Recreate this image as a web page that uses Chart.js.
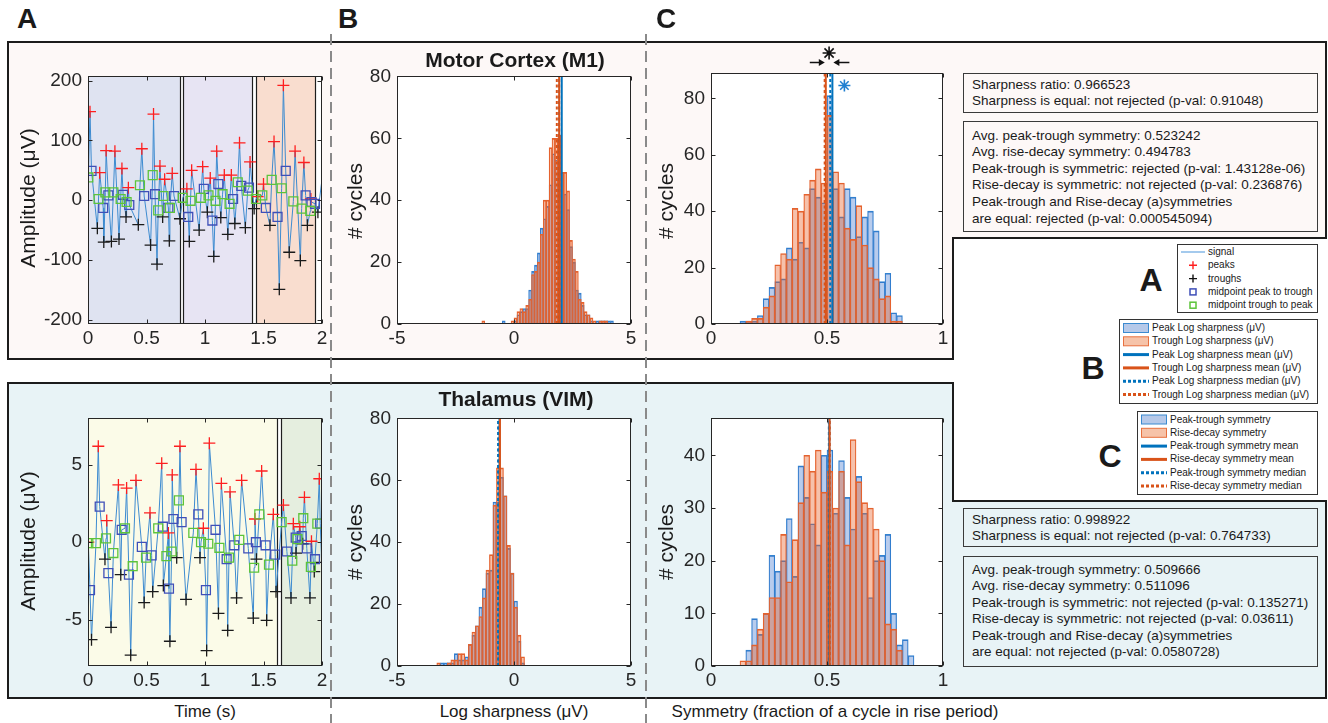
<!DOCTYPE html>
<html>
<head>
<meta charset="utf-8">
<title>Waveform shape: Motor Cortex vs Thalamus</title>
<script src="https://cdn.jsdelivr.net/npm/chart.js@4.4.1/dist/chart.umd.min.js"></script>
<style>
html,body{margin:0;padding:0;background:#fff;}
#root{position:relative;width:1328px;height:723px;overflow:hidden;font-family:"Liberation Sans",Arial,Helvetica,sans-serif;color:#1a1a1a;}
#deco{position:absolute;left:0;top:0;}
canvas{position:absolute;}
.t{position:absolute;white-space:nowrap;line-height:1;}
.box{position:absolute;border:1px solid #3a3a3a;box-sizing:border-box;font-size:13.5px;line-height:16.6px;padding-left:8px;color:#1a1a1a;white-space:nowrap;}
</style>
</head>
<body>
<div id="root">
<svg id="deco" width="1328" height="723" xmlns="http://www.w3.org/2000/svg">
  <path d="M8 42 H1326 V238 H953 V359 H8 Z" fill="#fdf8f7" stroke="#1c1c1c" stroke-width="2"/>
  <path d="M8 383 H953 V501 H1326 V698 H8 Z" fill="#e8f3f6" stroke="#1c1c1c" stroke-width="2"/>
  <line x1="331" y1="34" x2="331" y2="723" stroke="#8a8a8a" stroke-width="2" stroke-dasharray="11 6"/>
  <line x1="646" y1="34" x2="646" y2="723" stroke="#8a8a8a" stroke-width="2" stroke-dasharray="11 6"/>
  <!-- legend A -->
  <rect x="1177.5" y="244.5" width="140" height="68" fill="#fff" stroke="#333" stroke-width="1"/>
  <line x1="1181" y1="252" x2="1205" y2="252" stroke="#7db4e6" stroke-width="1.4"/>
  <path d="M1189 265.3 H1197 M1193 261.3 V269.3" stroke="#ff1f1f" stroke-width="1.4"/>
  <path d="M1189 278.6 H1197 M1193 274.6 V282.6" stroke="#111" stroke-width="1.4"/>
  <rect x="1190" y="288.9" width="6" height="6" fill="none" stroke="#3f4fb8" stroke-width="1.5"/>
  <rect x="1190" y="302.2" width="6" height="6" fill="none" stroke="#5cc43a" stroke-width="1.5"/>
  <!-- legend B -->
  <rect x="1119.5" y="319.5" width="198" height="84" fill="#fff" stroke="#333" stroke-width="1"/>
  <rect x="1123.5" y="323.5" width="25" height="9" fill="#b6c9e9" stroke="#3b8ad0" stroke-width="1"/>
  <rect x="1123.5" y="336.8" width="25" height="9" fill="#f6c3a9" stroke="#e8703e" stroke-width="1"/>
  <line x1="1123" y1="354.6" x2="1149" y2="354.6" stroke="#0072bd" stroke-width="3"/>
  <line x1="1123" y1="367.9" x2="1149" y2="367.9" stroke="#d95319" stroke-width="3"/>
  <line x1="1123" y1="381.2" x2="1149" y2="381.2" stroke="#0072bd" stroke-width="3" stroke-dasharray="3 2"/>
  <line x1="1123" y1="394.5" x2="1149" y2="394.5" stroke="#d95319" stroke-width="3" stroke-dasharray="3 2"/>
  <!-- legend C -->
  <rect x="1137.5" y="411.5" width="180" height="83" fill="#fff" stroke="#333" stroke-width="1"/>
  <rect x="1141.5" y="415" width="25" height="9" fill="#b6c9e9" stroke="#3b8ad0" stroke-width="1"/>
  <rect x="1141.5" y="428.3" width="25" height="9" fill="#f6c3a9" stroke="#e8703e" stroke-width="1"/>
  <line x1="1141" y1="446.1" x2="1167" y2="446.1" stroke="#0072bd" stroke-width="3"/>
  <line x1="1141" y1="459.4" x2="1167" y2="459.4" stroke="#d95319" stroke-width="3"/>
  <line x1="1141" y1="472.7" x2="1167" y2="472.7" stroke="#0072bd" stroke-width="3" stroke-dasharray="3 2"/>
  <line x1="1141" y1="486" x2="1167" y2="486" stroke="#d95319" stroke-width="3" stroke-dasharray="3 2"/>
</svg>
</div>
<script>
// ================= DATA =================
// tick labels
const timeTicks = [0, 0.5, 1, 1.5, 2];
const m1AmpTicks = [-200, -100, 0, 100, 200];
const vimAmpTicks = [-5, 0, 5];
const sharpTicks = [-5, 0, 5];
const sharpCountTicks = [0, 20, 40, 60, 80];
const symTicks = [0, 0.5, 1];
const m1SymCountTicks = [0, 20, 40, 60, 80];
const vimSymCountTicks = [0, 10, 20, 30, 40];

// Panel A – Motor cortex (M1) time series [time s, amplitude µV]
const m1Peaks = [[0.017,148],[0.10,46],[0.155,83],[0.23,82],[0.29,53],[0.345,21],[0.46,86],[0.56,144],[0.615,57],[0.655,35],[0.72,45],[0.845,19],[0.886,50],[0.98,56],[1.045,37],[1.10,82],[1.165,42],[1.225,42],[1.295,96],[1.385,64],[1.45,6],[1.50,27],[1.59,98],[1.67,192],[1.77,82],[1.845,63],[1.905,2]];
const m1Troughs = [[0.08,-47],[0.135,-70],[0.2,-69],[0.265,-65],[0.325,-28],[0.43,-41],[0.535,-75],[0.59,-107],[0.638,-28],[0.695,-68],[0.786,-31],[0.866,-69],[0.95,-50],[1.02,-20],[1.075,-94],[1.135,-29],[1.195,-57],[1.255,-39],[1.345,-46],[1.42,-14],[1.555,-42],[1.635,-149],[1.72,-87],[1.815,-101],[1.875,-42],[1.965,-20]];
const m1MidPT = [[0.03,49],[0.13,-13],[0.174,8],[0.30,9],[0.353,-8],[0.48,7],[0.573,10],[0.687,-13],[0.735,7],[0.857,-28],[0.99,19],[1.063,-34],[1.114,27],[1.24,2],[1.31,24],[1.376,21],[1.52,-13],[1.62,-28],[1.69,49],[1.86,8],[1.91,-3],[1.94,-6]];
const m1MidTP = [[0.003,38],[0.09,2],[0.148,13],[0.217,13],[0.279,2],[0.33,-3],[0.444,25],[0.553,42],[0.60,-17],[0.645,7],[0.70,-13],[0.81,4],[0.876,-1],[0.965,4],[1.03,8],[1.09,-1],[1.15,10],[1.21,-6],[1.28,30],[1.365,16],[1.436,2],[1.49,8],[1.57,34],[1.655,20],[1.755,-2],[1.826,-14],[1.90,-18]];
const m1SignalEnds = [[2.0,35]];
const m1Segments = [[0,0.786],[0.812,1.40],[1.436,1.94]];

// Panel A – Thalamus (VIM) time series
const vimPeaks = [[0.003,0],[0.088,6.2],[0.16,1.4],[0.26,3.7],[0.33,3.5],[0.41,4.0],[0.53,1.9],[0.63,5.1],[0.687,0.6],[0.72,4.35],[0.786,6.2],[0.923,4.7],[0.986,0.9],[1.037,6.4],[1.14,3.8],[1.214,3.25],[1.313,4.0],[1.427,1.5],[1.484,4.6],[1.584,1.8],[1.67,2.4],[1.755,1.2],[1.81,1.0],[1.85,2.9],[1.91,0.06],[1.977,4.1]];
const vimTroughs = [[0.03,-6.3],[0.145,-1.1],[0.197,-5.5],[0.28,-2.1],[0.365,-7.3],[0.48,-3.9],[0.553,-3.2],[0.644,-2.8],[0.70,-6.4],[0.758,-1.0],[0.838,-3.7],[0.957,-1.0],[1.014,-7.0],[1.115,-4.6],[1.194,-5.7],[1.27,-3.6],[1.413,-4.9],[1.44,-1.1],[1.527,-5.05],[1.607,-3.2],[1.735,-3.6],[1.778,-0.7],[1.835,-0.1],[1.897,-3.6],[1.934,-1.9],[1.997,-1.3]];
const vimMidPT = [[0.017,-3.1],[0.10,2.3],[0.174,-2.0],[0.288,0.8],[0.35,-2.1],[0.46,-0.3],[0.544,-0.85],[0.64,1.0],[0.692,-3.0],[0.73,1.5],[0.80,1.3],[0.943,1.8],[1.008,-3.1],[1.09,0.8],[1.185,-1.1],[1.25,-0.2],[1.37,-0.4],[1.435,0],[1.518,-0.2],[1.60,-0.8],[1.70,-0.6],[1.775,0.3],[1.826,0.4],[1.87,-0.4],[1.94,-1.1],[1.985,1.2]];
const vimMidTP = [[0.003,-0.06],[0.068,-0.06],[0.154,0.25],[0.217,-0.7],[0.316,0.9],[0.382,-1.55],[0.496,-1.0],[0.60,0.9],[0.67,-0.9],[0.715,-0.6],[0.777,2.7],[0.90,0.6],[0.966,0],[1.028,-0.1],[1.123,-0.36],[1.205,-1.0],[1.293,0.15],[1.42,-1.65],[1.464,1.8],[1.547,-1.45],[1.655,1.3],[1.746,-1.2],[1.79,0.2],[1.84,1.55],[1.905,-1.6],[1.96,1.2]];
const vimSignalEnds = [];
const vimSegments = [[0,1.615],[1.65,2.0]];

// Panel B – log sharpness histograms (bin left edges, counts)
const m1SharpBinWidth = 0.125;
const m1SharpBins = [-1.375,-1.25,-1.125,-1,-0.875,-0.75,-0.625,-0.5,-0.375,-0.25,-0.125,0,0.125,0.25,0.375,0.5,0.625,0.75,0.875,1,1.125,1.25,1.375,1.5,1.625,1.75,1.875,2,2.125,2.25,2.375,2.5,2.625,2.75,2.875,3,3.125,3.25,3.375,3.5,3.625,3.75,3.875,4,4.125];
const m1PeakSharp = [0,0,0,0,0,0,0,1,0,0,0,1,3,4,5,5,11,17,19,23,31,34,38,45,55,53,60,49,42,37,25,20,11,10,6,3,3,1,0,1,1,1,1,1,1];
const m1TroughSharp = [1,0,0,0,0,0,0,0,0,0,1,2,4,5,4,6,8,16,17,20,29,40,40,57,60,60,61,49,49,43,27,21,17,8,7,4,3,2,1,0,1,1,1,0,0];
const m1SharpMeans = [2.04, 1.93];    // [peak, trough]
const m1SharpMedians = [1.93, 1.83];  // [peak, trough]

const vimSharpBinWidth = 0.15;
const vimSharpBins = [-3.3,-3.15,-3,-2.85,-2.7,-2.55,-2.4,-2.25,-2.1,-1.95,-1.8,-1.65,-1.5,-1.35,-1.2,-1.05,-0.9,-0.75,-0.6,-0.45,-0.3,-0.15,0,0.15,0.3];
const vimPeakSharp = [0,1,1,1,1,4,2,2,3,7,10,13,19,25,30,31,53,53,61,55,38,30,21,8,1];
const vimTroughSharp = [1,0,0,1,2,2,4,4,2,7,11,13,16,22,31,36,52,64,64,55,39,30,19,10,3];
const vimSharpMeans = [-0.62, -0.60];
const vimSharpMedians = [-0.68, -0.66];

// Panel C – symmetry histograms
const symBinWidth = 0.025;
const m1SymBins = [0.125,0.15,0.175,0.2,0.225,0.25,0.275,0.3,0.325,0.35,0.375,0.4,0.425,0.45,0.475,0.5,0.525,0.55,0.575,0.6,0.625,0.65,0.675,0.7,0.725,0.75,0.775,0.8];
const m1PeakTroughSym = [1,1,1,3,9,13,15,16,27,23,29,27,48,45,43,81,48,38,48,45,31,38,40,33,15,18,4,3];
const m1RiseDecaySym = [0,1,2,2,6,10,21,25,23,41,40,46,51,55,50,74,54,50,34,30,42,28,20,16,9,10,1,1];
const m1SymMeans = [0.523242, 0.494783];   // [peak-trough, rise-decay]
const m1SymMedians = [0.514, 0.490];

const vimSymBins = [0.125,0.15,0.175,0.2,0.225,0.25,0.275,0.3,0.325,0.35,0.375,0.4,0.425,0.45,0.475,0.5,0.525,0.55,0.575,0.6,0.625,0.65,0.675,0.7,0.725,0.75,0.775,0.8,0.825,0.85];
const vimPeakTroughSym = [0,3,9,6,10,21,18,20,28,17,38,32,27,23,40,41,29,39,32,26,36,29,13,20,21,25,10,4,5,2];
const vimRiseDecaySym = [1,1,4,7,10,13,13,25,16,24,31,40,37,41,33,37,30,37,23,43,35,31,30,26,20,8,7,3,0,0];
const vimSymMeans = [0.509666, 0.511096];
const vimSymMedians = [0.508, 0.512];

// texts
const m1Stats1 = ["Sharpness ratio: 0.966523", "Sharpness is equal: not rejected (p-val: 0.91048)"];
const m1Stats2 = ["Avg. peak-trough symmetry: 0.523242", "Avg. rise-decay symmetry: 0.494783", "Peak-trough is symmetric: rejected (p-val: 1.43128e-06)", "Rise-decay is symmetric: not rejected (p-val: 0.236876)", "Peak-trough and Rise-decay (a)symmetries", "are equal: rejected (p-val: 0.000545094)"];
const vimStats1 = ["Sharpness ratio: 0.998922", "Sharpness is equal: not rejected (p-val: 0.764733)"];
const vimStats2 = ["Avg. peak-trough symmetry: 0.509666", "Avg. rise-decay symmetry: 0.511096", "Peak-trough is symmetric: not rejected (p-val: 0.135271)", "Rise-decay is symmetric: not rejected (p-val: 0.03611)", "Peak-trough and Rise-decay (a)symmetries", "are equal: not rejected (p-val: 0.0580728)"];
const legendA = ["signal", "peaks", "troughs", "midpoint peak to trough", "midpoint trough to peak"];
const legendB = ["Peak Log sharpness (\u03bcV)", "Trough Log sharpness (\u03bcV)", "Peak Log sharpness mean (\u03bcV)", "Trough Log sharpness mean (\u03bcV)", "Peak Log sharpness median (\u03bcV)", "Trough Log sharpness median (\u03bcV)"];
const legendC = ["Peak-trough symmetry", "Rise-decay symmetry", "Peak-trough symmetry mean", "Rise-decay symmetry mean", "Peak-trough symmetry median", "Rise-decay symmetry median"];

// ================= STYLE / RENDER =================
const FONT = '"Liberation Sans", Arial, Helvetica, sans-serif';
const INK = '#262626';
const root = document.getElementById('root');
Chart.defaults.font.family = FONT;
Chart.defaults.animation = false;

function mkCanvas(left, top, w, h) {
  const c = document.createElement('canvas');
  c.width = w; c.height = h;
  c.style.left = left + 'px'; c.style.top = top + 'px';
  c.style.width = w + 'px'; c.style.height = h + 'px';
  root.appendChild(c);
  return c;
}

function axis(min, max, ticks, size, isX, pad) {
  return {
    type: 'linear', min, max, offset: false,
    grid: { display: false, drawTicks: false }, border: { display: false },
    afterBuildTicks: s => { s.ticks = ticks.map(v => ({ value: v })); },
    afterFit: s => { if (isX) s.height = size; else s.width = size; },
    ticks: { autoSkip: false, maxRotation: 0, padding: pad, color: INK,
             font: { family: FONT, size: 19 }, callback: v => String(v) }
  };
}

const boxPlugin = {
  id: 'matBox',
  afterDatasetsDraw(chart) {
    const { ctx, chartArea: a, scales: { x, y } } = chart;
    ctx.save();
    ctx.strokeStyle = INK; ctx.lineWidth = 1;
    const L = Math.round(a.left) + 0.5, R = Math.round(a.right) - 0.5;
    const T = Math.round(a.top) + 0.5, B = Math.round(a.bottom) - 0.5;
    ctx.strokeRect(L, T, R - L, B - T);
    ctx.beginPath();
    x.ticks.forEach(t => { const p = Math.round(x.getPixelForValue(t.value)) + 0.5;
      ctx.moveTo(p, B); ctx.lineTo(p, B - 4); ctx.moveTo(p, T); ctx.lineTo(p, T + 4); });
    y.ticks.forEach(t => { const p = Math.round(y.getPixelForValue(t.value)) + 0.5;
      ctx.moveTo(L, p); ctx.lineTo(L + 4, p); ctx.moveTo(R, p); ctx.lineTo(R - 4, p); });
    ctx.stroke();
    ctx.restore();
  }
};

function regionPlugin(segments, colors) {
  return {
    id: 'regions',
    beforeDraw(chart) {
      const { ctx, chartArea: a, scales: { x } } = chart;
      ctx.save();
      ctx.fillStyle = '#ffffff';
      ctx.fillRect(a.left, a.top, a.width, a.height);
      segments.forEach((s, i) => {
        const x0 = x.getPixelForValue(s[0]), x1 = x.getPixelForValue(s[1]);
        ctx.fillStyle = colors[i];
        ctx.fillRect(x0, a.top, x1 - x0, a.height);
      });
      ctx.restore();
    },
    beforeDatasetsDraw(chart) {
      const { ctx, chartArea: a, scales: { x } } = chart;
      ctx.save();
      ctx.strokeStyle = '#1e1e1e'; ctx.lineWidth = 1.2;
      segments.forEach(s => s.forEach(v => {
        if (v > x.min && v < x.max) {
          const p = Math.round(x.getPixelForValue(v)) + 0.5;
          ctx.beginPath(); ctx.moveTo(p, a.top); ctx.lineTo(p, a.bottom); ctx.stroke();
        }
      }));
      ctx.restore();
    }
  };
}

const toXY = arr => arr.map(p => ({ x: p[0], y: p[1] }));

function timeChart(geo, peaks, troughs, midPT, midTP, ends, yMin, yMax, yTicks, segments, segColors) {
  const signal = [...peaks, ...troughs, ...midPT, ...midTP, ...ends].sort((a, b) => a[0] - b[0]);
  const c = mkCanvas(geo.left, geo.top, geo.w, geo.h);
  new Chart(c, {
    type: 'scatter',
    data: { datasets: [
      { data: toXY(signal), showLine: true, borderColor: '#3d8bd0', borderWidth: 1, pointRadius: 0, tension: 0, order: 5 },
      { data: toXY(peaks), pointStyle: 'cross', pointRadius: 6, borderColor: '#ff1f1f', borderWidth: 1.3, order: 4 },
      { data: toXY(troughs), pointStyle: 'cross', pointRadius: 6, borderColor: '#1a1a1a', borderWidth: 1.3, order: 3 },
      { data: toXY(midPT), pointStyle: 'rect', pointRadius: 6.3, backgroundColor: 'rgba(0,0,0,0)', borderColor: '#3f4fb8', borderWidth: 1.3, order: 2 },
      { data: toXY(midTP), pointStyle: 'rect', pointRadius: 6.3, backgroundColor: 'rgba(0,0,0,0)', borderColor: '#5cc43a', borderWidth: 1.3, order: 1 }
    ] },
    options: {
      responsive: false, animation: false, devicePixelRatio: 1,
      layout: { padding: geo.pad },
      plugins: { legend: { display: false }, tooltip: { enabled: false } },
      events: [],
      scales: { x: axis(0, 2, timeTicks, 30, true, 3), y: axis(yMin, yMax, yTicks, geo.yW, false, 6) }
    },
    plugins: [regionPlugin(segments, segColors), boxPlugin]
  });
}

function histChart(geo, bins, width, blue, orange, means, medians, xMin, xMax, xTicks, yMax, yTicks, extra) {
  const c = mkCanvas(geo.left, geo.top, geo.w, geo.h);
  const bars = arr => bins.map((e, i) => ({ x: e + width / 2, y: arr[i] }));
  const vline = (v, color, dash, ord) => ({ type: 'line', data: [{ x: v, y: 0 }, { x: v, y: yMax }], borderColor: color,
    borderWidth: 2, borderDash: dash, pointRadius: 0, order: ord });
  const edge = { top: 1, left: 0.55, right: 0.55, bottom: 0 };
  const plugins = [regionPlugin([], []), boxPlugin];
  if (extra) plugins.push(extra);
  new Chart(c, {
    type: 'bar',
    data: { datasets: [
      { data: bars(blue), backgroundColor: 'rgba(40,100,200,0.33)', borderColor: '#3483cf', borderWidth: edge,
        borderSkipped: false, barPercentage: 1, categoryPercentage: 1, grouped: false, order: 6 },
      { data: bars(orange), backgroundColor: 'rgba(232,100,45,0.40)', borderColor: '#e4622f', borderWidth: edge,
        borderSkipped: false, barPercentage: 1, categoryPercentage: 1, grouped: false, order: 5 },
      vline(medians[1], '#d95319', [3, 2.5], 4),
      vline(medians[0], '#0072bd', [3, 2.5], 3),
      vline(means[0], '#0072bd', [], 2),
      vline(means[1], '#d95319', [], 1)
    ] },
    options: {
      responsive: false, animation: false, devicePixelRatio: 1,
      layout: { padding: geo.pad },
      plugins: { legend: { display: false }, tooltip: { enabled: false } },
      events: [],
      scales: { x: axis(xMin, xMax, xTicks, 30, true, 3), y: axis(0, yMax, yTicks, geo.yW, false, 6) }
    },
    plugins
  });
}

function geometry(plotLeft, plotTop, plotW, plotH, yW, padTop) {
  const pad = { left: 4, top: padTop, right: 14, bottom: 4 };
  return { left: plotLeft - yW - pad.left, top: plotTop - padTop, w: pad.left + yW + plotW + pad.right,
           h: padTop + plotH + 30 + pad.bottom, pad, yW };
}

function drawStar(ctx, cx, cy, r, col) {
  ctx.save(); ctx.strokeStyle = col; ctx.lineWidth = 1.6; ctx.beginPath();
  for (let k = 0; k < 4; k++) {
    const ang = k * Math.PI / 4, dx = Math.cos(ang) * r, dy = Math.sin(ang) * r;
    ctx.moveTo(cx - dx, cy - dy); ctx.lineTo(cx + dx, cy + dy);
  }
  ctx.stroke(); ctx.restore();
}
function drawArrow(ctx, x0, x1, y, col) {
  const dir = Math.sign(x1 - x0);
  ctx.save(); ctx.strokeStyle = col; ctx.fillStyle = col; ctx.lineWidth = 1.5;
  ctx.beginPath(); ctx.moveTo(x0, y); ctx.lineTo(x1 - dir * 4, y); ctx.stroke();
  ctx.beginPath(); ctx.moveTo(x1, y); ctx.lineTo(x1 - dir * 6, y - 3.5); ctx.lineTo(x1 - dir * 6, y + 3.5); ctx.closePath(); ctx.fill();
  ctx.restore();
}
const sigPlugin = {
  id: 'significance',
  afterDraw(chart) {
    const { ctx, chartArea: a, scales: { x } } = chart;
    const xb = x.getPixelForValue(m1SymMeans[0]);
    const xo = x.getPixelForValue(m1SymMeans[1]);
    drawStar(ctx, (xo + xb) / 2, a.top - 20, 6.5, '#111');
    drawArrow(ctx, xo - 16, xo - 1, a.top - 10.5, '#111');
    drawArrow(ctx, xb + 17, xb + 1, a.top - 10.5, '#111');
    drawStar(ctx, xb + 12, a.top + 12.5, 6, '#1f7fd0');
  }
};

// ---- charts ----
timeChart(geometry(88, 73, 234, 251, 62, 14), m1Peaks, m1Troughs, m1MidPT, m1MidTP, m1SignalEnds,
  -207, 207, m1AmpTicks, m1Segments, ['#dfe3f1', '#e7e4f3', '#f9ddcf']);
timeChart(geometry(88, 415, 234, 251, 62, 14), vimPeaks, vimTroughs, vimMidPT, vimMidTP, vimSignalEnds,
  -8, 8, vimAmpTicks, vimSegments, ['#fbfbe8', '#e5eedf']);
histChart(geometry(397, 73, 234, 251, 45, 14), m1SharpBins, m1SharpBinWidth, m1PeakSharp, m1TroughSharp,
  m1SharpMeans, m1SharpMedians, -5, 5, sharpTicks, 80, sharpCountTicks);
histChart(geometry(397, 415, 234, 251, 45, 14), vimSharpBins, vimSharpBinWidth, vimPeakSharp, vimTroughSharp,
  vimSharpMeans, vimSharpMedians, -5, 5, sharpTicks, 80, sharpCountTicks);
histChart(geometry(711, 73, 232, 251, 45, 42), m1SymBins, symBinWidth, m1PeakTroughSym, m1RiseDecaySym,
  m1SymMeans, m1SymMedians, 0, 1, symTicks, 89, m1SymCountTicks, sigPlugin);
histChart(geometry(711, 415, 232, 251, 45, 14), vimSymBins, symBinWidth, vimPeakTroughSym, vimRiseDecaySym,
  vimSymMeans, vimSymMedians, 0, 1, symTicks, 47, vimSymCountTicks);

// ---- text ----
function addText(txt, x, y, size, o = {}) {
  const d = document.createElement('div');
  d.className = 't'; d.textContent = txt;
  d.style.left = x + 'px'; d.style.top = y + 'px'; d.style.fontSize = size + 'px';
  if (o.bold) d.style.fontWeight = 'bold';
  if (o.color) d.style.color = o.color;
  d.style.transform = o.rot ? 'translate(-50%,-50%) rotate(-90deg)' : (o.left ? 'translate(0,-50%)' : 'translate(-50%,-50%)');
  root.appendChild(d);
}
addText('A', 27, 19, 28, { bold: true });
addText('B', 348, 19, 28, { bold: true });
addText('C', 666, 19, 28, { bold: true });
addText('Motor Cortex (M1)', 515, 59, 21, { bold: true });
addText('Thalamus (VIM)', 516, 398, 21, { bold: true });
addText('Amplitude (\u03bcV)', 27, 198, 21, { rot: true });
addText('Amplitude (\u03bcV)', 27, 541, 21, { rot: true });
addText('# cycles', 354, 201, 21, { rot: true });
addText('# cycles', 354, 542, 21, { rot: true });
addText('# cycles', 665, 201, 21, { rot: true });
addText('# cycles', 665, 542, 21, { rot: true });
addText('Time (s)', 205, 711, 17);
addText('Log sharpness (\u03bcV)', 514, 711, 17);
addText('Symmetry (fraction of a cycle in rise period)', 835, 711, 17);
addText('A', 1151, 280, 32, { bold: true });
addText('B', 1093, 368, 32, { bold: true });
addText('C', 1110, 456, 32, { bold: true });

function addBox(lines, left, top, w, h, padTop) {
  const d = document.createElement('div');
  d.className = 'box';
  d.style.left = left + 'px'; d.style.top = top + 'px';
  d.style.width = w + 'px'; d.style.height = h + 'px'; d.style.paddingTop = padTop + 'px';
  lines.forEach(l => { const r = document.createElement('div'); r.textContent = l; d.appendChild(r); });
  root.appendChild(d);
}
addBox(m1Stats1, 963, 73, 355, 40, 2.7);
addBox(m1Stats2, 963, 121, 355, 111, 5.7);
addBox(vimStats1, 963, 508, 355, 39, 2.7);
addBox(vimStats2, 963, 556, 355, 111, 4.5);

legendA.forEach((s, i) => addText(s, 1208, 252 + i * 13.3, 10, { left: true }));
legendB.forEach((s, i) => addText(s, 1152, 328 + i * 13.3, 10, { left: true }));
legendC.forEach((s, i) => addText(s, 1170, 419.5 + i * 13.3, 10, { left: true }));
</script>
</body>
</html>
